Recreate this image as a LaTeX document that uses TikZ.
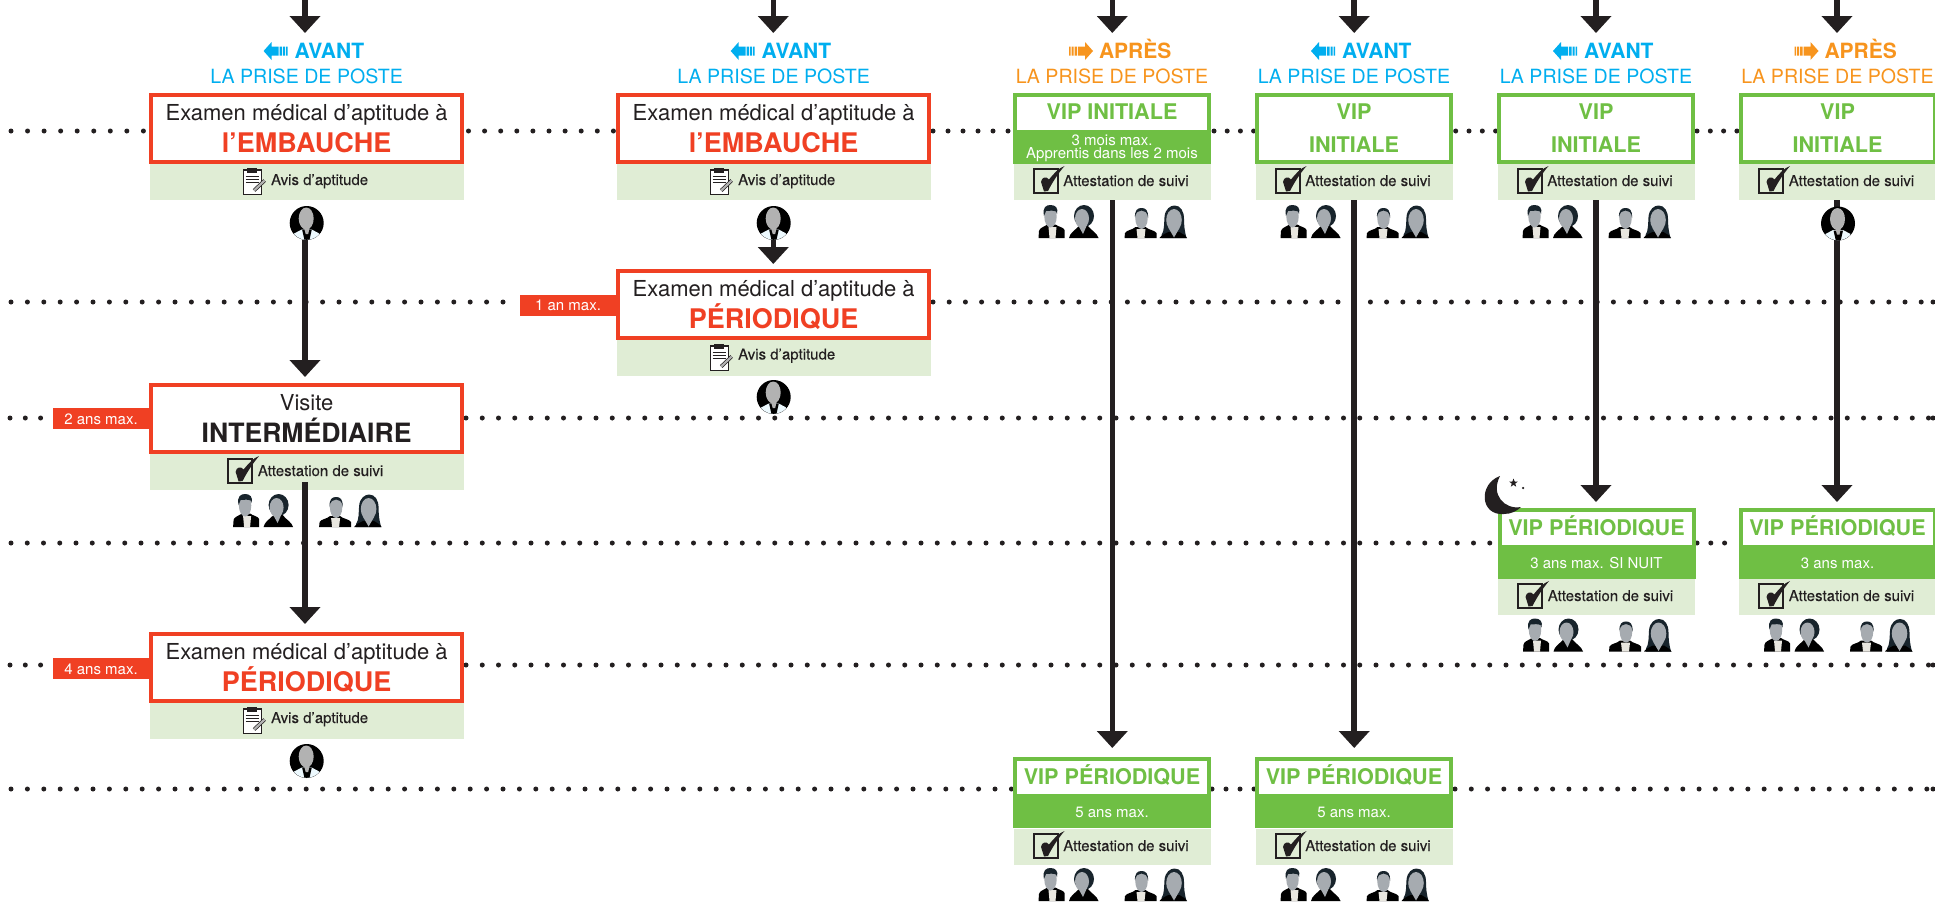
\documentclass[tikz,border=0pt]{standalone}
\usepackage{fontspec}
\setmainfont{TeX Gyre Heros}
\newfontfamily\bandfont[FakeBold=0.2]{TeX Gyre Heros}
\usetikzlibrary{arrows.meta,shapes.geometric}
\definecolor{cred}{HTML}{F04023}
\definecolor{cblue}{HTML}{00AEEF}
\definecolor{corange}{HTML}{F7941D}
\definecolor{cdark}{HTML}{231F20}
\definecolor{cband}{HTML}{E0EDD5}
\definecolor{cgreen}{HTML}{6FBF44}
\definecolor{cface}{HTML}{A6ABB0}
\definecolor{chair}{HTML}{18242C}
\definecolor{cshirt}{HTML}{E8E6DF}
\newcounter{dsn}
\tikzset{
  txt/.style={inner sep=0pt,outer sep=0pt,anchor=base},
  txtl/.style={inner sep=0pt,outer sep=0pt,anchor=base west},
  fsA/.style={font=\fontsize{22}{24}\selectfont},
  fsHead/.style={font=\fontsize{19.6}{22}\selectfont},
  fsBold/.style={font=\fontsize{27}{29}\selectfont\bfseries},
  fsTitle/.style={font=\fontsize{21.6}{24}\selectfont\bfseries},
  fsSmall/.style={font=\fontsize{15}{17}\selectfont},
  fsBand/.style={font=\bandfont\fontsize{15}{17}\selectfont},
  redframe/.style={draw=cred,fill=white,line width=4pt,minimum width=311pt,minimum height=67pt,inner sep=0pt,outer sep=0pt},
  greenframe/.style={draw=cgreen,fill=white,line width=4pt,minimum width=194pt,minimum height=67pt,inner sep=0pt,outer sep=0pt},
  greensolid/.style={fill=cgreen,minimum width=198pt,minimum height=71pt,inner sep=0pt,outer sep=0pt},
  greenwin/.style={fill=white,minimum width=190pt,minimum height=33pt,inner sep=0pt,outer sep=0pt},
  bandbox/.style={fill=cband,minimum height=36pt,inner sep=0pt,outer sep=0pt},
  labelbox/.style={fill=cred,minimum width=96pt,minimum height=21pt,inner sep=0pt,outer sep=0pt},
  flow/.style={draw=cdark,line width=5.6pt,-{Triangle[width=30pt,length=17pt]},shorten >=0pt},
  dotline/.style={draw=cdark,line width=5pt,line cap=round},
}
% ---------- icons
\newcommand{\manA}[2]{\begin{scope}[shift={(#1,#2)}]
\fill[black] (0,33) -- (0.5,26) .. controls (1,23) and (5,22) .. (9,19.5) -- (17,19.5) .. controls (20,22) and (25,22) .. (26,25) -- (26,33) -- cycle;
\fill[cshirt] (10,22) -- (18,22) -- (17,33) -- (11,33) -- cycle;
\fill[cface] (12,11.5) ellipse [x radius=6.2,y radius=11];
\fill[chair] (5.500,11) .. controls (3.500,2) and (8,0) .. (12,0) .. controls (17,0) and (20,3) .. (18.500,9) -- (17.500,6.500) .. controls (15,5) and (10,6) .. (7.500,6) -- cycle;
\end{scope}}
\newcommand{\womanA}[2]{\begin{scope}[shift={(#1,#2)}]
\fill[chair] (15,11) ellipse [x radius=10,y radius=11];
\fill[black] (0,33) .. controls (1,28) and (5,26) .. (10,21) -- (19,21) .. controls (23,26) and (28,28) .. (29.500,33) -- cycle;
\fill[cface] (13,13.500) ellipse [x radius=7,y radius=9.500];
\fill[cface] (9,20) -- (14,29) -- (18,20) -- cycle;
\end{scope}}
\newcommand{\manB}[2]{\begin{scope}[shift={(#1,#2)}]
\fill[black] (0,33) -- (0.5,28) .. controls (2,25) and (8,25) .. (11,22) -- (21,22) .. controls (24,25) and (30,25) .. (32,28) -- (32,33) -- cycle;
\fill[cshirt] (12,24) -- (21,24) -- (20,33) -- (13,33) -- cycle;
\fill[cface] (17,13.500) ellipse [x radius=6.2,y radius=10.500];
\fill[chair] (10.500,13) .. controls (10,5) and (13,3) .. (17,3) .. controls (21,3) and (24,5) .. (23.500,13) .. controls (23,7) and (20,5.500) .. (17,5.500) .. controls (14,5.500) and (11,7) .. (10.500,13) -- cycle;
\end{scope}}
\newcommand{\womanB}[2]{\begin{scope}[shift={(#1,#2)}]
\fill[chair] (2,30) .. controls (5,26) and (4.500,18) .. (5,12) .. controls (5.500,4) and (11,0.5) .. (15,0.5) .. controls (21,0.5) and (24.500,6) .. (24.500,14) .. controls (24.500,20) and (25,26) .. (27,33) -- (2,33) -- cycle;
\fill[black] (0,33) .. controls (2,30) and (6,28.500) .. (9,27) -- (20,27) .. controls (22,28.500) and (26,30) .. (27.500,33) -- cycle;
\fill[cface] (14.500,15) ellipse [x radius=7.800,y radius=11];
\fill[cface] (9,23) -- (14.500,32.500) -- (20,23) -- cycle;
\end{scope}}
\newcommand{\fourpeople}[2]{%
  \manA{#1-73.5}{#2}\womanA{#1-43}{#2}\manB{#1+12.500}{#2}\womanB{#1+47.500}{#2}}
% doctor: #1 name, #2 cx, #3 cy
\newcommand{\doctor}[3]{%
\node[circle,fill=black,minimum size=34pt,inner sep=0pt,outer sep=0pt] (#1) at (#2,#3) {};
\begin{scope}[shift={(#2,#3)}]
\clip (0,0) circle [radius=16.800];
\fill[white!93!cblue] (-14,18) -- (-12.500,10.500) -- (-5,6.500) -- (5,6.500) -- (12.500,10.500) -- (14,18) -- cycle;
\fill[black] (-4.500,7) -- (5,7) -- (2.500,18) -- (-2,18) -- cycle;
\fill[white!70!black] (-0.500,-4.500) ellipse [x radius=7.500,y radius=11];
\fill[white!70!black] (-3.500,2) -- (3.500,2) -- (1.500,11) -- (-1,11) -- cycle;
\end{scope}}
\newcommand{\checkicon}[2]{\begin{scope}[shift={(#1,#2)}]
\draw[cdark,line width=2pt] (0,0) rectangle (24,24);
\fill[cdark] (7.5,13) .. controls (8,8) and (13,7) .. (15.5,10.5) .. controls (20,5) and (25,-1) .. (31,-3) .. controls (25,4) and (19,13) .. (14.5,22) -- (10.5,22.5) .. controls (10,19) and (8,16) .. (7.5,13) -- cycle;
\end{scope}}
\newcommand{\clipicon}[2]{\begin{scope}[shift={(#1,#2)}]
\draw[cdark,line width=1.1pt,fill=white] (0,2.500) rectangle (18,27);
\fill[cdark] (4,0.5) rectangle (14,5);
\draw[cdark,line width=0.9pt] (2.500,9) -- (15.500,9) (2.500,12) -- (15.500,12) (2.500,15) -- (15.500,15);
\draw[cdark,line width=3.6pt] (11,23) -- (21.500,13);
\draw[white!70!black,line width=2.2pt] (11,23) -- (21.500,13);
\end{scope}}
\newcommand{\leftarr}[3]{\begin{scope}[shift={(#1,#2)}]
\fill[#3] (0,9) -- (8,0) -- (8,4.500) -- (15,4.500) -- (15,13.500) -- (8,13.500) -- (8,18) -- cycle;
\fill[#3] (16,4.500) rectangle (18.500,13.500) (19.500,4.500) rectangle (21.500,13.500) (22.500,4.500) rectangle (24,13.500);
\end{scope}}
\newcommand{\rightarr}[3]{\begin{scope}[shift={(#1,#2)}]
\fill[#3] (24,9) -- (16,0) -- (16,4.500) -- (9,4.500) -- (9,13.500) -- (16,13.500) -- (16,18) -- cycle;
\fill[#3] (8,4.500) rectangle (5.500,13.500) (4.500,4.500) rectangle (2.500,13.500) (1.500,4.500) rectangle (0,13.500);
\end{scope}}
% ---------- headings: #1 name, #2 cx
\newcommand{\avanthead}[2]{\leftarr{#2-43}{42}{cblue}%
\node[txtl,font=\fontsize{21}{24}\selectfont\bfseries,cblue] (#1-a) at (#2-12,58) {AVANT};
\node[txt,fsHead,cblue] (#1-b) at (#2,83) {LA PRISE DE POSTE};}
\newcommand{\apreshead}[2]{\rightarr{#2-43}{42}{corange}%
\node[txtl,font=\fontsize{21}{24}\selectfont\bfseries,corange] (#1-a) at (#2-13,58) {APRÈS};
\node[txt,fsHead,corange] (#1-b) at (#2,83) {LA PRISE DE POSTE};}
% ---------- bands
\newcommand{\attband}[4]{% name, cx, top, width
\node[bandbox,minimum width=#4pt,anchor=north] (#1) at (#2,#3) {};
\checkicon{#2-78.5}{#3+5}%
\node[txtl,fsBand,cdark] (#1-t) at (#2-48.7,#3+22) {Attestation de suivi};}
\newcommand{\avisband}[4]{% name, cx, top, baseline offset
\node[bandbox,minimum width=314pt,anchor=north] (#1) at (#2,#3) {};
\clipicon{#2-63.5}{#3+3.500}%
\node[txtl,fsBand,cdark] (#1-t) at (#2-35.500,#3+#4) {Avis d’aptitude};}
% ---------- red card: name, cx, top, line1, line2, colour
\newcommand{\redcard}[6]{%
\node[redframe,anchor=north,yshift=-2pt] (#1) at (#2,#3) {};
\node[txt,fsA,cdark] (#1-l1) at (#2,#3+27) {#4};
\node[txt,fsBold,#6] (#1-l2) at (#2,#3+59) {#5};}
% ---------- green cards
\newcommand{\vipstrip}[4]{% name, cx, top, strip text
\node[greensolid,anchor=north] (#1) at (#2,#3) {};
\node[greenwin,anchor=north] (#1-w) at (#2,#3+4) {};
\node[txt,fsTitle,cgreen] (#1-l1) at (#2,#3+27) {VIP PÉRIODIQUE};
\node[txt,fsSmall,white] (#1-l2) at (#2,#3+60) {#4};}
\newcommand{\vipdouble}[3]{% name, cx, top
\node[greenframe,anchor=north,yshift=-2pt] (#1) at (#2,#3) {};
\node[txt,fsTitle,cgreen] (#1-l1) at (#2,#3+26) {VIP};
\node[txt,fsTitle,cgreen] (#1-l2) at (#2,#3+59) {INITIALE};}
\newcommand{\dotseg}[4]{% y, x0, x1, spacing
\stepcounter{dsn}%
\coordinate (ds\thedsn) at (#2,#1);
\coordinate (de\thedsn) at (#3,#1);
\draw[dotline,dash pattern=on 0pt off #4pt] (ds\thedsn) -- (de\thedsn);}

\begin{document}
\begin{tikzpicture}[x=1pt,y=-1pt]
\useasboundingbox (0,0) rectangle (1935,902);
\fill[white] (0,0) rectangle (1935,902);
% ---------- dotted time lines
\dotseg{131}{11}{150}{16.55}
\dotseg{131}{468.5}{617}{16.1}
\dotseg{131}{933}{1013}{15}
\dotseg{131}{1214}{1255}{13.2}
\dotseg{131}{1455.7}{1498}{13.3}
\dotseg{131}{1697}{1738}{13.3}
\dotseg{302}{11}{519}{16.4}
\dotseg{302}{933}{1930}{16.2}
\dotseg{302}{1933}{1934}{50}
\dotseg{418}{10}{50}{15.3}
\dotseg{418}{466}{1930}{16.25}
\dotseg{418}{1933}{1934}{50}
\dotseg{543}{11}{1498}{16.25}
\dotseg{543}{1697}{1738}{13.8}
\dotseg{665}{10}{50}{15.3}
\dotseg{665}{466}{1930}{16.25}
\dotseg{665}{1933}{1934}{50}
\dotseg{789}{11}{1013}{16.4}
\dotseg{789}{1212}{1255}{14}
\dotseg{789}{1455}{1930}{16.27}
\dotseg{789}{1933}{1934}{50}
% ---------- column 1
\avanthead{h1}{306.6}
\redcard{a1}{306.6}{93}{Examen médical d’aptitude à}{l’EMBAUCHE}{cred}
\avisband{a1b}{306.6}{164}{21}
\doctor{d1}{306.7}{223}
\node[labelbox] (l2) at (101,418.5) {};
\node[txt,fsSmall,white] (l2t) at (101,424) {2 ans max.};
\redcard{a2}{306.6}{383}{Visite}{{\fontsize{26.600}{29}\selectfont INTERMÉDIAIRE}}{cdark}
\attband{a2b}{306.6}{454}{314}
\fourpeople{306.6}{494}
\node[labelbox] (l4) at (101,668.5) {};
\node[txt,fsSmall,white] (l4t) at (101,674) {4 ans max.};
\redcard{a3}{306.6}{632}{Examen médical d’aptitude à}{PÉRIODIQUE}{cred}
\avisband{a3b}{306.6}{703}{20}
\doctor{d3}{306.7}{761}
% ---------- column 2
\avanthead{h2}{773.7}
\redcard{b1}{773.7}{93}{Examen médical d’aptitude à}{l’EMBAUCHE}{cred}
\avisband{b1b}{773.7}{164}{21}
\doctor{d4}{773.7}{223}
\node[labelbox] (l1) at (568,305.5) {};
\node[txt,fsSmall,white] (l1t) at (568,310) {1 an max.};
\redcard{b2}{773.7}{269}{Examen médical d’aptitude à}{PÉRIODIQUE}{cred}
\avisband{b2b}{773.7}{340}{19.500}
\doctor{d5}{773.7}{397}
% ---------- column 3
\apreshead{h3}{1112}
\node[greensolid,anchor=north] (c1) at (1112,93) {};
\node[greenwin,anchor=north] (c1w) at (1112,97) {};
\node[txt,fsTitle,cgreen] (c1t) at (1112,119) {VIP INITIALE};
\node[txt,fsSmall,white] (c1s1) at (1112,145) {3 mois max.};
\node[txt,fsSmall,white] (c1s2) at (1112,158) {Apprentis dans les 2 mois};
\attband{c1b}{1112}{164}{197}
\fourpeople{1112}{205}
\vipstrip{c2}{1112}{757}{5 ans max.}
\attband{c2b}{1112}{829}{197}
\fourpeople{1112}{868}
% ---------- column 4
\avanthead{h4}{1354}
\vipdouble{e1}{1354}{93}
\attband{e1b}{1354}{164}{197}
\fourpeople{1354}{205}
\vipstrip{e2}{1354}{757}{5 ans max.}
\attband{e2b}{1354}{829}{197}
\fourpeople{1354}{868}
% ---------- column 5
\avanthead{h5}{1596}
\vipdouble{f1}{1596}{93}
\attband{f1b}{1596}{164}{197}
\fourpeople{1596}{205}
\vipstrip{f2}{1596.500}{508}{3 ans max. SI NUIT}
\attband{f2b}{1596.500}{579}{197}
\fourpeople{1596.500}{618.500}
% moon
\fill[cdark] (1500,476) .. controls (1478,484) and (1480,516) .. (1504,514) .. controls (1511,514) and (1517,511) .. (1521,507) .. controls (1505,510) and (1490,495) .. (1500,476) -- cycle;
\node[star,star points=5,star point ratio=2.4,fill=cdark,minimum size=9pt,inner sep=0pt] (st1) at (1513.500,483) {};
\node[circle,fill=cdark,minimum size=2.500pt,inner sep=0pt] (st2) at (1523,488) {};
% ---------- column 6
\apreshead{h6}{1837.500}
\vipdouble{g1}{1837.500}{93}
\attband{g1b}{1837.500}{164}{197}
\vipstrip{g2}{1837.500}{508}{3 ans max.}
\attband{g2b}{1837.500}{579}{197}
\fourpeople{1837.500}{618.500}
% ---------- connectors
\coordinate (s1) at (305,-2);
\coordinate (s2) at (773.3,-2);
\coordinate (s3) at (1112.300,-2);
\coordinate (s4) at (1354.200,-2);
\coordinate (s5) at (1596,-2);
\coordinate (s6) at (1837,-2);
\coordinate (t1) at (305,33);
\coordinate (t2) at (773.3,33);
\coordinate (t3) at (1112.300,33);
\coordinate (t4) at (1354.200,33);
\coordinate (t5) at (1596,33);
\coordinate (t6) at (1837,33);
\foreach \n in {1,...,6} {\draw[flow] (s\n) -- (t\n);}
\draw[flow] (d1.south -| s1) -- ([yshift=8pt]a2.north -| s1);
\draw[flow] ([yshift=8pt]a2b.south -| s1) -- ([yshift=10pt]a3.north -| s1);
\draw[flow] (d4.south -| s2) -- ([yshift=7pt]b2.north -| s2);
\draw[flow] (c1b.south -| s3) -- ([yshift=9pt]c2.north -| s3);
\draw[flow] (e1b.south -| s4) -- ([yshift=9pt]e2.north -| s4);
\draw[flow] (f1b.south -| s5) -- ([yshift=6pt]f2.north -| s5);
\draw[flow] (g1b.south -| s6) -- ([yshift=6pt]g2.north -| s6);
\doctor{d6}{1838}{223.500}
\end{tikzpicture}
\end{document}
